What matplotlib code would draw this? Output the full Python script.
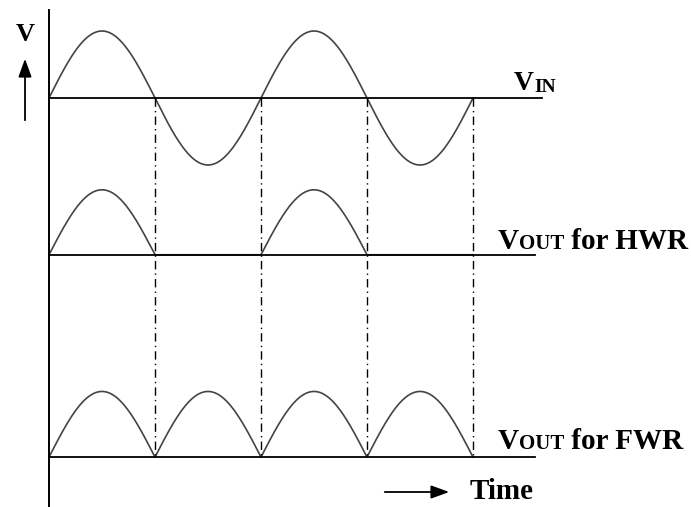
import numpy as np
import matplotlib.pyplot as plt

# time in half-periods of the input sine; crossings where the dash-dot guides sit
crossings = [1, 2, 3, 4]
t_end = 4
# baselines of the three traces (in units of the peak amplitude)
baselines = {'vin': 0.0, 'hwr': -2.34, 'fwr': -5.36}
amplitudes = {'vin': 1.0, 'hwr': 0.97, 'fwr': 0.98}
trace_labels = {'hwr': ('V', 'OUT', ' for HWR'), 'fwr': ('V', 'OUT', ' for FWR')}

W, H = 691, 507
fig = plt.figure(figsize=(W / 100, H / 100), dpi=100)
ax = fig.add_axes([0, 0, 1, 1])
px = 106.0   # pixels per half period
py = 67.0    # pixels per amplitude unit
x0, y0 = 49, 98
ax.set_xlim(-x0 / px, (W - x0) / px)
ax.set_ylim(-(H - y0) / py, y0 / py)
ax.axis('off')

t = np.linspace(0, t_end, 800)
s = np.sin(np.pi * t)
wave_kw = dict(color='#444444', lw=1.2)
line_kw = dict(color='black', lw=1.3)

# input sine
ax.plot(t, baselines['vin'] + amplitudes['vin'] * s, **wave_kw)
ax.plot([0, (542 - x0) / px], [baselines['vin']] * 2, **line_kw)
# half wave
ax.plot(t, baselines['hwr'] + amplitudes['hwr'] * np.clip(s, 0, None), **wave_kw)
ax.plot([0, (535 - x0) / px], [baselines['hwr']] * 2, **line_kw)
# full wave
ax.plot(t, baselines['fwr'] + amplitudes['fwr'] * np.abs(s), **wave_kw)
ax.plot([0, (535 - x0) / px], [baselines['fwr']] * 2, **line_kw)

# dash-dot guides
for c in crossings:
    ax.plot([c, c], [baselines['vin'], baselines['fwr']], color='black', lw=1.0,
            linestyle=(0, (6, 3, 1, 3)))

# vertical axis
ax.plot([0, 0], [(y0 - 10) / py, -(H - y0) / py], color='black', lw=1.4)

serif = ['Liberation Serif', 'DejaVu Serif']
arrow_kw = dict(arrowstyle='-|>,head_length=1.1,head_width=0.4', color='black', lw=1.3)

# V label with up arrow
ax.text((25 - x0) / px, (y0 - 34) / py, 'V', family=serif, weight='bold',
        fontsize=19, ha='center', va='center')
ax.annotate('', xy=((25 - x0) / px, (y0 - 56) / py), xytext=((25 - x0) / px, (y0 - 123) / py),
            arrowprops=arrow_kw)


def text_after(tx):
    fig.canvas.draw()
    return ax.transData.inverted().transform((tx.get_window_extent().x1, 0))[0]


# V_IN
tx = ax.text((514 - x0) / px, (y0 - 90) / py, 'V', family=serif, weight='bold', fontsize=20,
             ha='left', va='baseline')
ax.text(text_after(tx), (y0 - 92) / py, 'IN', family=serif, weight='bold', fontsize=14,
        ha='left', va='baseline')

for key, yb in [('hwr', 249), ('fwr', 449)]:
    big, small, rest = trace_labels[key]
    tx = ax.text((498 - x0) / px, (y0 - yb) / py, big, family=serif, weight='bold',
                 fontsize=21, ha='left', va='baseline')
    t1 = ax.text(text_after(tx), (y0 - yb) / py, small, family=serif, weight='bold',
                 fontsize=15, ha='left', va='baseline')
    ax.text(text_after(t1), (y0 - yb) / py, rest, family=serif, weight='bold',
            fontsize=21, ha='left', va='baseline')

# time arrow
ax.annotate('', xy=((452 - x0) / px, (y0 - 492) / py), xytext=((382 - x0) / px, (y0 - 492) / py),
            arrowprops=arrow_kw)
ax.text((470 - x0) / px, (y0 - 499) / py, 'Time', family=serif, weight='bold', fontsize=21,
        ha='left', va='baseline')

fig.savefig('out.png', dpi=100)
